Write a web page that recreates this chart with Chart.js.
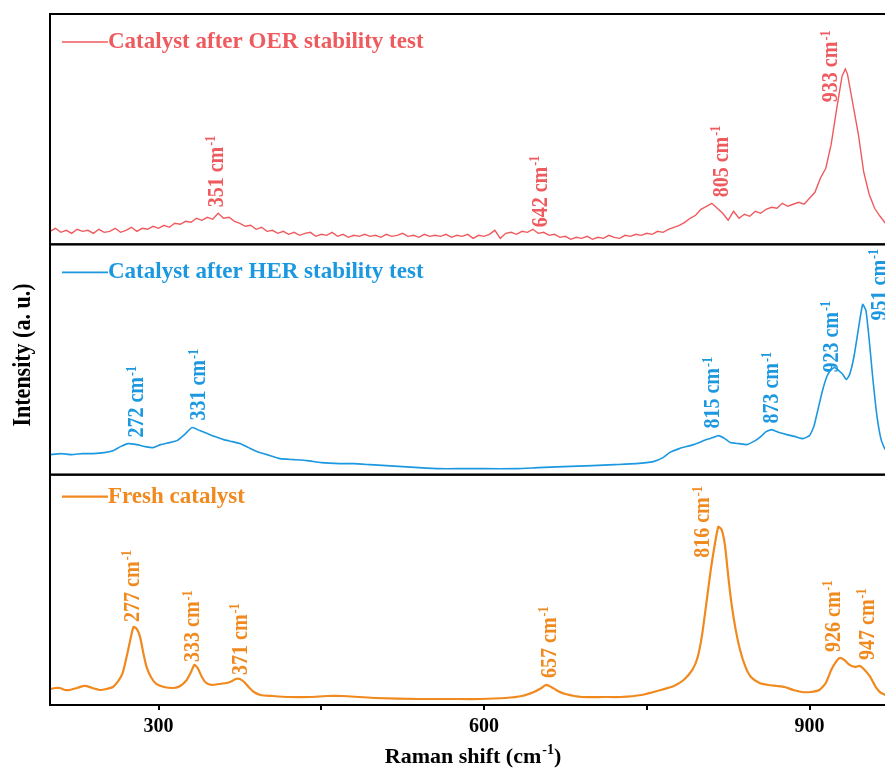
<!DOCTYPE html>
<html>
<head>
<meta charset="utf-8">
<script src="https://cdn.jsdelivr.net/npm/chart.js@4.4.1/dist/chart.umd.min.js"></script>
<style>
  html, body { margin: 0; padding: 0; background: #fff; overflow: hidden; }
  #wrap { width: 930px; height: 769px; }
</style>
</head>
<body>
<div id="wrap"><canvas id="raman" width="930" height="769"></canvas></div>
<script>
// ---------- spectra (intensity in a.u., each panel 0..230) ----------
const oerShift = [200,205,210,215,220,225,230,235,240,245,250,255,260,265,270,275,280,285,290,295,
  300,305,310,315,320,325,330,335,340,345,350,355,360,365,370,375,380,385,390,395,
  400,405,410,415,420,425,430,435,440,445,450,455,460,465,470,475,480,485,490,495,
  500,505,510,515,520,525,530,535,540,545,550,555,560,565,570,575,580,585,590,595,
  600,605,610,615,620,625,630,635,640,645,650,655,660,665,670,675,680,685,690,695,
  700,705,710,715,720,725,730,735,740,745,750,755,760,765,770,775,780,785,790,795,
  800,805,810,815,820,825,830,835,840,845,850,855,860,865,870,875,880,885,890,895,
  900,905,910,915,920,925,930,933,935,940,945,950,955,960,965,970,975,980,985,990,995,1000];
const oerIntensity = [13,16,12,14,11,15,13,14,11,15,12,13,16,12,14,17,13,16,15,18,
  16,19,17,21,20,23,22,26,24,27,25,31,26,27,23,21,18,19,15,17,
  13,14,11,13,10,12,9,11,12,8,10,9,12,8,10,7,9,8,10,8,
  9,7,10,8,9,11,8,9,7,10,8,9,8,10,7,9,8,10,6,9,
  8,10,14,6,11,12,10,13,12,15,11,12,9,10,7,8,5,7,6,8,
  5,7,6,9,7,6,9,8,10,9,11,10,13,12,15,17,19,22,26,29,
  35,38,41,36,31,24,33,26,30,28,33,31,35,37,36,41,38,40,42,40,
  46,52,66,76,100,135,168,175,170,140,110,72,50,36,28,21,18,15,16,13,14,12];

const herShift = [200,210,220,230,240,250,258,265,272,280,288,295,302,310,317,324,331,338,345,352,
  360,368,375,383,391,400,412,425,437,450,467,480,495,510,525,540,559,580,600,630,
  650,673,700,720,740,756,765,771,780,793,805,811,816,822,827,835,842,850,855,860,
  865,872,879,887,894,900,904,908,912,916,920,923,927,930,934,937,941,945,949,952,
  955,958,962,966,970,980,990,1000];
const herIntensity = [20,21,20,21,21,22,24,28,31,30,28,27,30,32,34,40,47,44,41,38,
  35,33,31,27,23,20,16,15,14,12,11,11,10,9,8,7,6,6,6,6,
  7,8,9,10,11,13,17,22,26,30,35,37,39,36,32,31,30,34,38,43,
  45,42,40,38,36,39,48,66,84,98,105,107,104,101,95,100,118,145,170,164,
  135,100,60,35,25,20,18,17];

const freshShift = [200,205,209,214,218,225,232,239,246,252,258,263,267,271,274,277,280,283,286,289,
  293,298,305,314,320,326,330,333,336,340,344,349,356,363,368,371,375,379,383,388,
  394,405,420,440,455,470,485,500,540,570,596,620,635,646,653,657,662,668,675,690,
  710,726,745,763,775,784,792,797,801,805,809,813,816,819,822,825,828,832,836,841,
  846,854,862,870,877,885,893,901,909,915,920,925,928,932,937,942,946,950,956,961,
  966,975,985,1000];
const freshIntensity = [16,17,17,15,15,17,19,17,15,16,18,24,32,50,65,78,76,68,52,38,
  28,21,18,17,19,25,33,40,37,28,22,20,21,22,24,26,26,23,18,13,
  10,9,8,8,9,9,8,7,6,6,6,7,9,13,17,20,18,14,11,8,
  8,8,10,15,19,25,35,48,70,102,135,162,178,175,160,130,102,75,55,38,
  28,22,20,19,18,15,13,13,15,22,35,44,47,45,40,38,39,36,28,18,
  12,9,8,7];

const oerPeaks = [351, 642, 805, 933];
const herPeaks = [272, 331, 815, 873, 923, 951];
const freshPeaks = [277, 333, 371, 657, 816, 926, 947];

const xTickValues = [300, 450, 600, 750, 900];
const xTickLabels = ['300', '', '600', '', '900'];

// ---------- panel styling ----------
const SERIF = '"Liberation Serif", "Times New Roman", serif';

const panels = [
  { axis: 'yOer', name: 'Catalyst after OER stability test', color: '#ef5a5e', width: 1.4, tension: 0,
    shift: oerShift, intensity: oerIntensity, peaks: oerPeaks, legendDy: 28,
    // [pixel nudge in x, text start height]
    labelPos: [[2, 37], [10, 17], [14, 47], [-15, 142]] },
  { axis: 'yHer', name: 'Catalyst after HER stability test', color: '#1b98e0', width: 1.6, tension: 0.15,
    shift: herShift, intensity: herIntensity, peaks: herPeaks, legendDy: 28,
    labelPos: [[8, 37], [6, 54], [-5, 46], [-9, 51], [-4, 102], [14, 154]] },
  { axis: 'yFresh', name: 'Fresh catalyst', color: '#f0891e', width: 2.2, tension: 0.2,
    shift: freshShift, intensity: freshIntensity, peaks: freshPeaks, legendDy: 22,
    labelPos: [[-2, 83], [-2, 43], [4, 30], [3, 27], [-16, 147], [-5, 53], [6, 45]] }
];

function supText(ctx, x, y, base, sup, size, raise) {
  ctx.font = 'bold ' + size + 'px ' + SERIF;
  ctx.fillText(base, x, y);
  const w = ctx.measureText(base).width;
  ctx.font = 'bold ' + Math.round(size * 0.62) + 'px ' + SERIF;
  ctx.fillText(sup, x + w + 1, y - size * raise);
  return w + 1 + ctx.measureText(sup).width;
}

// frames, legends, peak labels and axis titles
const decorations = {
  id: 'decorations',
  afterDatasetsDraw(chart) {
    const ctx = chart.ctx;
    const area = chart.chartArea;
    const x = chart.scales.x;

    ctx.save();
    ctx.strokeStyle = '#000';
    ctx.lineWidth = 2;
    panels.forEach(p => {
      const s = chart.scales[p.axis];
      ctx.strokeRect(area.left, s.top, area.right - area.left, s.bottom - s.top);
    });

    panels.forEach(p => {
      const s = chart.scales[p.axis];
      const ly = s.top + p.legendDy;
      ctx.strokeStyle = p.color;
      ctx.lineWidth = p.width;
      ctx.beginPath();
      ctx.moveTo(62, ly);
      ctx.lineTo(108, ly);
      ctx.stroke();
      ctx.fillStyle = p.color;
      ctx.font = 'bold 23px ' + SERIF;
      ctx.textBaseline = 'middle';
      ctx.textAlign = 'left';
      ctx.fillText(p.name, 108, ly);

      p.peaks.forEach((v, i) => {
        const [dx, h] = p.labelPos[i];
        ctx.save();
        ctx.translate(x.getPixelForValue(v) + dx, s.getPixelForValue(h));
        ctx.rotate(-Math.PI / 2);
        ctx.scale(1, 1.15);
        ctx.textBaseline = 'middle';
        supText(ctx, 0, 1, v + ' cm', '-1', 20, 0.22);
        ctx.restore();
      });
    });

    // axis titles
    ctx.fillStyle = '#000';
    ctx.textBaseline = 'middle';
    ctx.textAlign = 'left';
    ctx.font = 'bold 22px ' + SERIF;
    const base = 'Raman shift (cm';
    const bw = ctx.measureText(base).width;
    ctx.font = 'bold 14px ' + SERIF;
    const sw = ctx.measureText('-1').width;
    ctx.font = 'bold 22px ' + SERIF;
    const cw = ctx.measureText(')').width;
    const startX = 473 - (bw + 1 + sw + cw) / 2;
    const used = supText(ctx, startX, 757, base, '-1', 22, 0.3);
    ctx.font = 'bold 22px ' + SERIF;
    ctx.fillText(')', startX + used, 757);

    ctx.save();
    ctx.translate(22, 355);
    ctx.rotate(-Math.PI / 2);
    ctx.scale(1, 1.15);
    ctx.textAlign = 'center';
    ctx.font = 'bold 22px ' + SERIF;
    ctx.fillText('Intensity (a. u.)', 0, 1);
    ctx.restore();
    ctx.restore();
  }
};

function panelAxis(weight) {
  return {
    type: 'linear', position: 'left', stack: 'spectra', stackWeight: 1, weight: weight,
    min: 0, max: 230, display: false
  };
}

new Chart(document.getElementById('raman'), {
  type: 'line',
  data: {
    datasets: panels.map(p => ({
      label: p.name,
      data: p.shift.map((v, i) => ({ x: v, y: p.intensity[i] })),
      yAxisID: p.axis,
      borderColor: p.color,
      borderWidth: p.width,
      pointRadius: 0,
      tension: p.tension,
      fill: false
    }))
  },
  options: {
    responsive: false,
    animation: false,
    devicePixelRatio: 1,
    layout: { padding: { left: 50, top: 14, right: 12, bottom: 0 } },
    plugins: { legend: { display: false }, tooltip: { enabled: false } },
    scales: {
      x: {
        type: 'linear', min: 200, max: 1000,
        afterBuildTicks: axis => { axis.ticks = xTickValues.map(v => ({ value: v })); },
        afterFit: axis => { axis.height = 64; },
        border: { display: false },
        grid: { drawOnChartArea: false, drawTicks: true, tickLength: 5, color: '#000', lineWidth: 2 },
        ticks: {
          color: '#000', padding: 5, maxRotation: 0, autoSkip: false,
          font: { family: SERIF, weight: 'bold', size: 20 },
          callback: (v) => xTickLabels[xTickValues.indexOf(v)] ?? ''
        }
      },
      yOer: panelAxis(3),
      yHer: panelAxis(2),
      yFresh: panelAxis(1)
    }
  },
  plugins: [decorations]
});
</script>
</body>
</html>
